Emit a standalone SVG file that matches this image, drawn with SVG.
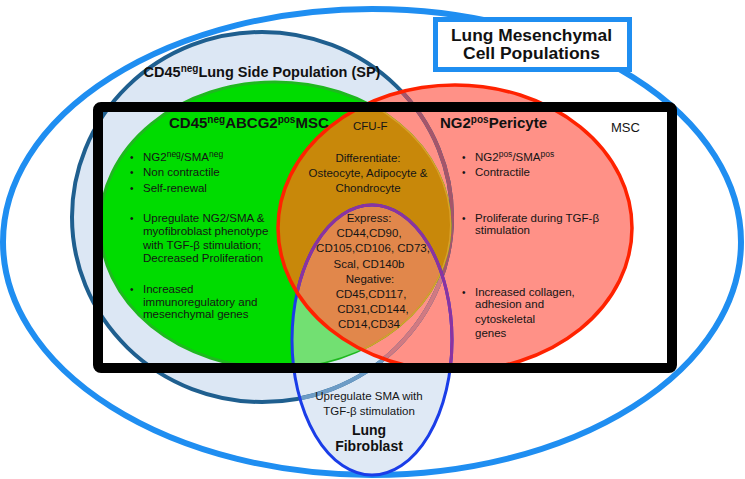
<svg xmlns="http://www.w3.org/2000/svg" width="745" height="479" viewBox="0 0 745 479">
<style>
.t{font-family:"Liberation Sans",Arial,sans-serif;font-size:11.5px;fill:#151515}
.c{text-anchor:middle}
.b{font-family:"Liberation Sans",Arial,sans-serif;font-size:10px;fill:#151515}
.sup{font-size:8.5px}
.h{font-family:"Liberation Sans",Arial,sans-serif;font-weight:bold;font-size:15px;fill:#111}
.hs{font-size:10px}
</style>
<defs>
<clipPath id="cRed"><ellipse cx="455" cy="228" rx="177" ry="143"/></clipPath>
<clipPath id="cGreen"><ellipse cx="275" cy="225" rx="175" ry="143"/></clipPath>
<clipPath id="cFib"><ellipse cx="372" cy="340" rx="80" ry="135"/></clipPath>
</defs>

<g id="lung-mesenchymal-populations">
<ellipse cx="372" cy="242" rx="369" ry="233" fill="none" stroke="#1f8ef1" stroke-width="6"/>
</g>

<g id="side-population">
<ellipse cx="262" cy="217" rx="190" ry="185" fill="#dce7f4"/>
</g>

<g id="fibroblast-fill">
<ellipse cx="372" cy="340" rx="80" ry="135" fill="#dfe9f5"/>
</g>

<g id="pericyte-fill">
<ellipse cx="455" cy="228" rx="177" ry="143" fill="#ff9187"/>
</g>

<g id="side-population-outline" fill="none" stroke-width="4">
<ellipse cx="262" cy="217" rx="190" ry="185" stroke="#1f5f8f"/>
<g clip-path="url(#cFib)"><ellipse cx="262" cy="217" rx="190" ry="185" stroke="#6d9cc6"/></g>
<g clip-path="url(#cRed)"><ellipse cx="262" cy="217" rx="190" ry="185" stroke="#a5556a"/>
<g clip-path="url(#cFib)"><ellipse cx="262" cy="217" rx="190" ry="185" stroke="#d07a82"/></g></g>
</g>

<g id="abcg2-msc">
<ellipse cx="275" cy="225" rx="175" ry="143" fill="#00dc00" stroke="#1fb81f" stroke-width="3"/>
<g clip-path="url(#cRed)"><ellipse cx="275" cy="225" rx="175" ry="143" fill="none" stroke="#d9a02a" stroke-width="3"/></g>
<g clip-path="url(#cGreen)">
<ellipse cx="372" cy="340" rx="80" ry="135" fill="#72e072"/>
</g>
</g>

<g id="cfu-f">
<g clip-path="url(#cGreen)">
<ellipse cx="455" cy="228" rx="177" ry="143" fill="#c8880a"/>
<g clip-path="url(#cFib)"><ellipse cx="455" cy="228" rx="177" ry="143" fill="#e1874b"/></g>
</g>
</g>

<g id="lung-fibroblast" fill="none" stroke-width="3">
<ellipse cx="372" cy="340" rx="80" ry="135" stroke="#1a3de8"/>
<g clip-path="url(#cRed)"><ellipse cx="372" cy="340" rx="80" ry="135" stroke="#8c32a0"/></g>
</g>

<g id="ng2-pericyte">
<ellipse cx="455" cy="228" rx="177" ry="143" fill="none" stroke="#ff2200" stroke-width="3.5"/>
</g>

<g id="msc">
<rect x="98" y="107" width="574" height="261" rx="3" fill="none" stroke="#000" stroke-width="10"/>
</g>

<g id="title">
<rect x="435.5" y="19.5" width="194" height="50" fill="#fff" stroke="#1f8ef1" stroke-width="5"/>
<text class="h" x="451" y="41" style="font-size:16px" textLength="161" lengthAdjust="spacingAndGlyphs">Lung Mesenchymal</text>
<text class="h" x="463" y="59" style="font-size:16px" textLength="137" lengthAdjust="spacingAndGlyphs">Cell Populations</text>
</g>

<g id="connectors"/>

<g id="labels">
<text class="h c" x="262" y="77" style="font-size:14.5px">CD45<tspan class="hs" dy="-5">neg</tspan><tspan dy="5">Lung Side Population (SP)</tspan></text>
<text class="h" x="169" y="128">CD45<tspan class="hs" dy="-5">neg</tspan><tspan dy="5">ABCG2</tspan><tspan class="hs" dy="-5">pos</tspan><tspan dy="5">MSC</tspan></text>
<text class="t" x="353" y="130">CFU-F</text>
<text class="h" x="440" y="128">NG2<tspan class="hs" dy="-5">pos</tspan><tspan dy="5">Pericyte</tspan></text>
<text class="t" x="611" y="132" style="font-size:13px">MSC</text>

<text class="b" x="130" y="161">•</text>
<text class="t" x="143" y="161">NG2<tspan class="sup" dy="-4">neg</tspan><tspan dy="4">/SMA</tspan><tspan class="sup" dy="-4">neg</tspan></text>
<text class="b" x="130" y="176">•</text>
<text class="t" x="143" y="176">Non contractile</text>
<text class="b" x="130" y="192">•</text>
<text class="t" x="143" y="192">Self-renewal</text>
<text class="b" x="130" y="222">•</text>
<text class="t" x="143" y="222">Upregulate NG2/SMA &amp;</text>
<text class="t" x="143" y="235">myofibroblast phenotype</text>
<text class="t" x="143" y="249">with TGF-β stimulation;</text>
<text class="t" x="143" y="262">Decreased Proliferation</text>
<text class="b" x="130" y="293">•</text>
<text class="t" x="143" y="293">Increased</text>
<text class="t" x="143" y="306">immunoregulatory and</text>
<text class="t" x="143" y="318">mesenchymal genes</text>

<text class="t c" x="368" y="162">Differentiate:</text>
<text class="t c" x="368" y="177">Osteocyte, Adipocyte &amp;</text>
<text class="t c" x="368" y="192">Chondrocyte</text>
<text class="t c" x="369" y="222">Express:</text>
<text class="t c" x="369" y="237">CD44,CD90,</text>
<text class="t c" x="373" y="252">CD105,CD106, CD73,</text>
<text class="t c" x="369" y="268">Scal, CD140b</text>
<text class="t c" x="370" y="283">Negative:</text>
<text class="t c" x="371" y="298">CD45,CD117,</text>
<text class="t c" x="373" y="313">CD31,CD144,</text>
<text class="t c" x="369" y="328">CD14,CD34</text>

<text class="b" x="462" y="161">•</text>
<text class="t" x="475" y="161">NG2<tspan class="sup" dy="-4">pos</tspan><tspan dy="4">/SMA</tspan><tspan class="sup" dy="-4">pos</tspan></text>
<text class="b" x="462" y="176">•</text>
<text class="t" x="475" y="176">Contractile</text>
<text class="b" x="462" y="222">•</text>
<text class="t" x="475" y="222">Proliferate during TGF-β</text>
<text class="t" x="475" y="234">stimulation</text>
<text class="b" x="462" y="296">•</text>
<text class="t" x="475" y="296">Increased collagen,</text>
<text class="t" x="475" y="308">adhesion and</text>
<text class="t" x="475" y="323">cytoskeletal</text>
<text class="t" x="475" y="337">genes</text>

<text class="t c" x="369" y="400">Upregulate SMA with</text>
<text class="t c" x="369" y="415">TGF-β stimulation</text>
<text class="h c" x="369" y="435" style="font-size:14px">Lung</text>
<text class="h c" x="369" y="451" style="font-size:14px">Fibroblast</text>
</g>
</svg>
